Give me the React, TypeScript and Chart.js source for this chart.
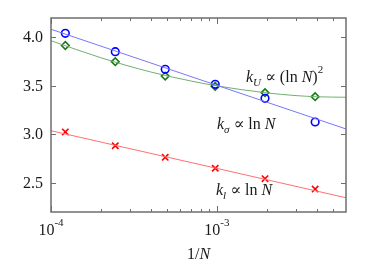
import React, { useEffect, useRef } from "react";
import { Chart, registerables } from "chart.js";
Chart.register(...registerables);

// data
const invN = [1.22e-4, 2.44e-4, 4.88e-4, 9.77e-4, 1.95e-3, 3.91e-3];
const kSigma = [4.042, 3.853, 3.671, 3.516, 3.372, 3.128];
const kU = [3.917, 3.75, 3.601, 3.495, 3.43, 3.389];
const kL = [3.025, 2.883, 2.764, 2.651, 2.543, 2.437];

const fitSigmaX = [1e-4, 6e-3];
const fitSigmaY = [4.084, 3.056];
const fitUX = [1e-4, 2e-4, 4e-4, 7e-4, 1e-3, 2e-3, 3e-3, 4e-3, 6e-3];
const fitUY = [3.966, 3.79, 3.643, 3.55, 3.5, 3.428, 3.4, 3.388, 3.383];
const fitLX = [1e-4, 6e-3];
const fitLY = [3.038, 2.347];

const yTicks = [2.5, 3.0, 3.5, 4.0];
const yTickLabels = ["2.5", "3.0", "3.5", "4.0"];
const xMajor = [1e-4, 1e-3];
const xMajorExp = ["-4", "-3"];
const xMinor = [2e-4, 3e-4, 4e-4, 5e-4, 6e-4, 7e-4, 8e-4, 9e-4, 2e-3, 3e-3, 4e-3, 5e-3];

const SERIF = "'Liberation Serif', 'DejaVu Serif', serif";

type Part = { t: string; it?: boolean; sz: number; dy?: number };

function drawRich(ctx: CanvasRenderingContext2D, x: number, y: number, parts: Part[], align: "left" | "center" = "left") {
  const widths = parts.map((p) => {
    ctx.font = `${p.it ? "italic " : ""}${p.sz}px ${SERIF}`;
    return ctx.measureText(p.t).width;
  });
  const total = widths.reduce((a, b) => a + b, 0);
  let cx = align === "center" ? x - total / 2 : x;
  ctx.textAlign = "left";
  ctx.textBaseline = "alphabetic";
  parts.forEach((p, i) => {
    ctx.font = `${p.it ? "italic " : ""}${p.sz}px ${SERIF}`;
    ctx.fillText(p.t, cx, y + (p.dy || 0));
    cx += widths[i];
  });
}

const framePlugin = {
  id: "frameAndText",
  afterDraw(chart: any) {
    const ctx: CanvasRenderingContext2D = chart.ctx;
    const { left, right, top, bottom } = chart.chartArea;
    const xs = chart.scales.x;
    const ys = chart.scales.y;
    ctx.save();
    ctx.strokeStyle = "#6e6e6e";
    ctx.lineWidth = 1.5;
    ctx.strokeRect(left, top, right - left, bottom - top);
    ctx.lineWidth = 1;
    ctx.beginPath();
    yTicks.forEach((v) => {
      const py = Math.round(ys.getPixelForValue(v)) + 0.5;
      ctx.moveTo(left, py); ctx.lineTo(left + 5, py);
      ctx.moveTo(right, py); ctx.lineTo(right - 5, py);
    });
    xMajor.forEach((v) => {
      const px = Math.round(xs.getPixelForValue(v)) + 0.5;
      ctx.moveTo(px, bottom); ctx.lineTo(px, bottom - 6);
      ctx.moveTo(px, top); ctx.lineTo(px, top + 6);
    });
    xMinor.forEach((v) => {
      const px = Math.round(xs.getPixelForValue(v)) + 0.5;
      ctx.moveTo(px, bottom); ctx.lineTo(px, bottom - 3);
      ctx.moveTo(px, top); ctx.lineTo(px, top + 3);
    });
    ctx.stroke();

    ctx.fillStyle = "#1a1a1a";
    ctx.font = `16px ${SERIF}`;
    ctx.textAlign = "right";
    ctx.textBaseline = "alphabetic";
    yTicks.forEach((v, i) => {
      const py = ys.getPixelForValue(v);
      ctx.fillText(yTickLabels[i], left - 8, py + 5);
    });
    xMajor.forEach((v, i) => {
      const px = xs.getPixelForValue(v);
      drawRich(ctx, px, 235, [
        { t: "10", sz: 16 },
        { t: xMajorExp[i], sz: 11, dy: -9 },
      ], "center");
    });
    drawRich(ctx, (left + right) / 2, 259, [
      { t: "1/", sz: 16 },
      { t: "N", sz: 16, it: true },
    ], "center");

    drawRich(ctx, 246, 82, [
      { t: "k", sz: 16, it: true },
      { t: "U", sz: 11, it: true, dy: 4 },
      { t: " \u221D (ln ", sz: 16 },
      { t: "N", sz: 16, it: true },
      { t: ")", sz: 16 },
      { t: "2", sz: 11, dy: -9 },
    ]);
    drawRich(ctx, 217, 129, [
      { t: "k", sz: 16, it: true },
      { t: "\u03C3", sz: 11, it: true, dy: 4 },
      { t: " \u221D ln ", sz: 16 },
      { t: "N", sz: 16, it: true },
    ]);
    drawRich(ctx, 216, 195, [
      { t: "k", sz: 16, it: true },
      { t: "l", sz: 11, it: true, dy: 4 },
      { t: " \u221D ln ", sz: 16 },
      { t: "N", sz: 16, it: true },
    ]);
    ctx.restore();
  },
};

const zip = (xs: number[], ys: number[]) => xs.map((x, i) => ({ x, y: ys[i] }));

export default function App() {
  const ref = useRef<HTMLCanvasElement | null>(null);
  useEffect(() => {
    document.body.style.margin = "0";
    const canvas = ref.current;
    if (!canvas) return;
    let alive = true;
    const chart = new Chart(canvas, {
      type: "scatter",
      data: {
        datasets: [
          { data: zip(fitSigmaX, fitSigmaY), showLine: true, borderColor: "#7777ff", borderWidth: 1, pointRadius: 0 },
          { data: zip(fitUX, fitUY), showLine: true, borderColor: "#6fb06f", borderWidth: 1, pointRadius: 0, cubicInterpolationMode: "monotone" },
          { data: zip(fitLX, fitLY), showLine: true, borderColor: "#ff7070", borderWidth: 1, pointRadius: 0 },
          { data: zip(invN, kSigma), showLine: false, pointStyle: "circle", pointRadius: 3.8, borderColor: "#0000ff", backgroundColor: "rgba(0,0,0,0)", borderWidth: 1.6 },
          { data: zip(invN, kU), showLine: false, pointStyle: "rectRot", pointRadius: 3.8, borderColor: "#157a15", backgroundColor: "rgba(0,0,0,0)", borderWidth: 1.6 },
          { data: zip(invN, kL), showLine: false, pointStyle: "crossRot", pointRadius: 4.5, borderColor: "#ff0000", backgroundColor: "#ff0000", borderWidth: 1.6 },
        ] as any,
      },
      options: {
        responsive: false,
        animation: false,
        layout: { padding: { left: 51, top: 18, right: 28, bottom: 50 } },
        plugins: { legend: { display: false }, tooltip: { enabled: false } },
        scales: {
          x: { type: "logarithmic", min: 1e-4, max: 6e-3, display: false },
          y: { type: "linear", min: 2.2, max: 4.2, display: false },
        },
      },
      plugins: [framePlugin],
    });
    const fonts = (document as any).fonts;
    if (fonts && fonts.load) {
      Promise.all([
        fonts.load(`16px 'Liberation Serif'`),
        fonts.load(`italic 16px 'Liberation Serif'`),
      ]).then(() => { if (alive) chart.draw(); }).catch(() => {});
    }
    return () => { alive = false; chart.destroy(); };
  }, []);
  return <canvas ref={ref} width={374} height={262} style={{ display: "block" }} />;
}
